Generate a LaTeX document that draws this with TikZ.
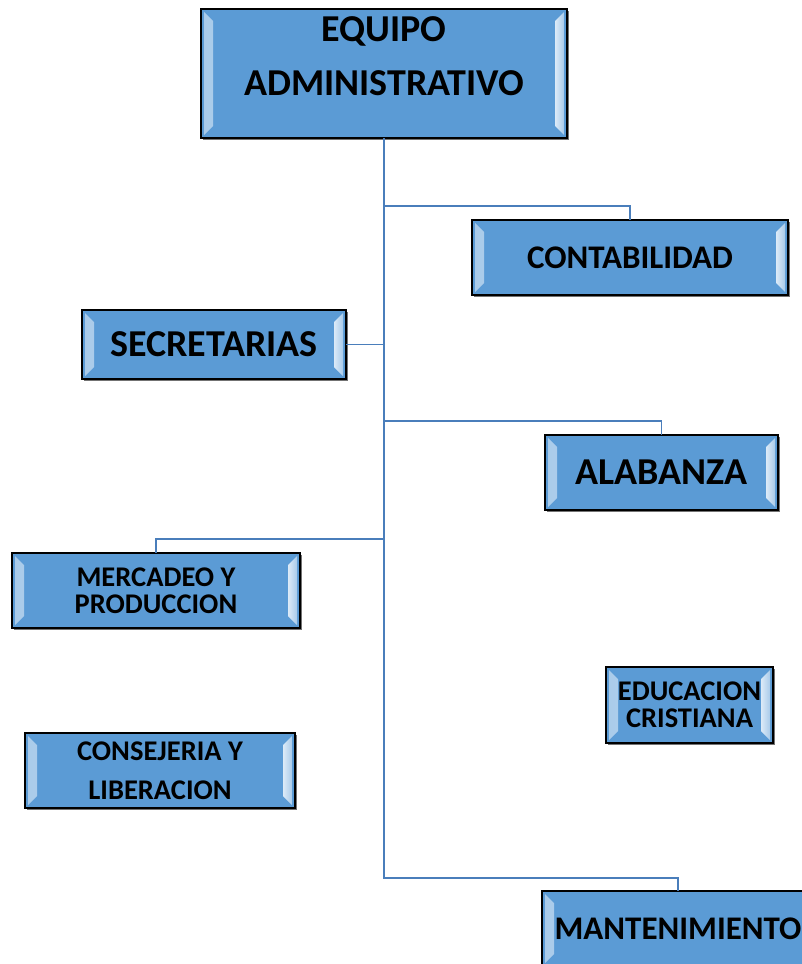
\documentclass[tikz,border=0pt]{standalone}
\usepackage{fontspec}
\setmainfont{Carlito}
\usetikzlibrary{calc,shadows}

\definecolor{boxblue}{HTML}{5B9BD5}
\definecolor{bevelout}{HTML}{A9CBEA}
\definecolor{bevelin}{HTML}{DCEAF7}
\definecolor{linkblue}{HTML}{4A7EBB}

\tikzset{
  orgbox/.style={draw=black, line width=1.3pt, fill=boxblue, inner sep=0pt, align=center,
    drop shadow={shadow xshift=2pt, shadow yshift=-2pt, fill=black, opacity=0.55},
    path picture={
      \fill[left color=bevelout, right color=bevelin]
        ($(path picture bounding box.north west)+(3pt,-3pt)$) -- ++(9pt,-9pt)
        -- ($(path picture bounding box.south west)+(12pt,12pt)$) -- ++(-9pt,-9pt) -- cycle;
      \fill[left color=bevelin, right color=bevelout]
        ($(path picture bounding box.north east)+(-12pt,-12pt)$) -- ++(9pt,9pt)
        -- ($(path picture bounding box.south east)+(-3pt,3pt)$) -- ++(-9pt,9pt) -- cycle;
    }},
  big/.style={font=\bfseries\fontsize{38}{54}\selectfont},
  mid/.style={font=\bfseries\fontsize{33}{38}\selectfont},
  small/.style={font=\bfseries\fontsize{28.5}{27}\selectfont},
  link/.style={draw=linkblue, line width=1.6pt},
}

\begin{document}
\begin{tikzpicture}[line cap=rect,line join=miter,x=1pt,y=-1pt]
\clip (0,0) rectangle (802,964);

% boxes
\node[orgbox, minimum width=366pt, minimum height=129pt,
      label={[big, align=center, yshift=17.5pt]center:EQUIPO\\ADMINISTRATIVO}] (equipo) at (384,73.5) {};
\node[orgbox, mid, minimum width=316pt, minimum height=75pt] (contab) at (630,257.5) {CONTABILIDAD};
\node[orgbox, big, minimum width=264pt, minimum height=69pt] (secret) at (214,344.5) {SECRETARIAS};
\node[orgbox, big, minimum width=233pt, minimum height=75pt] (alab) at (661.5,472.5) {ALABANZA};
\node[orgbox, small, minimum width=288pt, minimum height=75pt] (merc) at (156,590.5) {MERCADEO Y\\PRODUCCION};
\node[orgbox, small, minimum width=167pt, minimum height=76pt] (educ) at (689.5,705) {EDUCACION\\CRISTIANA};
\node[orgbox, font=\bfseries\fontsize{28.5}{39}\selectfont, minimum width=270pt, minimum height=75pt] (consej) at (160,770.5) {CONSEJERIA Y\\LIBERACION};
\node[orgbox, mid, minimum width=272pt, minimum height=75pt] (mant) at (678,928.5) {MANTENIMIENTO};

% trunk and branches
\coordinate (jcont) at (384,206);
\coordinate (jalab) at (384,421);
\coordinate (jmerc) at (384,539);
\coordinate (jmant) at (384,878);
\draw[link] (equipo.south) -- (jmant) -| (mant.north);
\draw[link] (jcont) -| (contab.north);
\draw[link] (secret.east) -- (secret.east -| equipo.south);
\draw[link] (jalab) -| (alab.north);
\draw[link] (jmerc) -| (merc.north);
\end{tikzpicture}
\end{document}
